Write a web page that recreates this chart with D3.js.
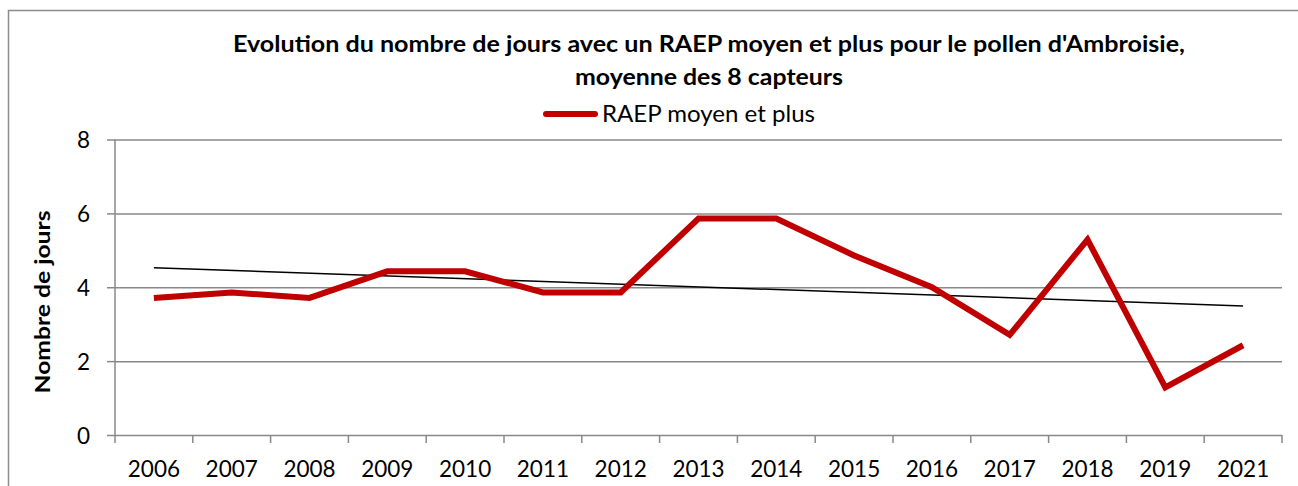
<!DOCTYPE html>
<html>
<head>
<meta charset="utf-8">
<script src="https://cdn.jsdelivr.net/npm/d3@7/dist/d3.min.js"></script>
<style>
  html, body { margin: 0; padding: 0; background: #fff; }
  svg { display: block; }
  text { font-family: Lato, "Open Sans", sans-serif; fill: #000; }
</style>
</head>
<body>
<svg id="chart" width="1298" height="486"></svg>
<script>
// Days with a "moyen et plus" pollen risk (RAEP), mean over the sensors
const years = ["2006", "2007", "2008", "2009", "2010", "2011", "2012", "2013",
               "2014", "2015", "2016", "2017", "2018", "2019", "2021"];
const raepDays = [3.71, 3.86, 3.71, 4.43, 4.43, 3.86, 3.86, 5.86,
                  5.86, 4.86, 4.00, 2.71, 5.29, 1.29, 2.43];
const yTicks = [0, 2, 4, 6, 8];
const titleLines = [
  "Evolution du nombre de jours avec un RAEP moyen et plus pour le pollen d'Ambroisie,",
  "moyenne des 8 capteurs"
];
const seriesName = "RAEP moyen et plus";
const yAxisTitle = "Nombre de jours";

const svg = d3.select("#chart");
const W = 1298, H = 486;
const plot = { left: 115, right: 1282, top: 139.5, bottom: 435 };
const red = "#C00000", grid = "#888888";

// Outer chart frame
svg.append("rect")
  .attr("x", 8.5).attr("y", 10.5)
  .attr("width", 1300).attr("height", 520)
  .attr("fill", "none").attr("stroke", "#8c8c8c").attr("stroke-width", 1.5);

const x = d3.scaleBand().domain(years).range([plot.left, plot.right]);
const y = d3.scaleLinear().domain([0, 8]).range([plot.bottom, plot.top]);

// Horizontal gridlines and y tick marks
const yAxis = d3.axisLeft(y).tickValues(yTicks).tickSize(8).tickPadding(17)
  .tickFormat(d3.format("d"));
const gy = svg.append("g").attr("transform", `translate(${plot.left},0)`).call(yAxis);
gy.select(".domain").remove();
gy.selectAll(".tick line").attr("stroke", grid).attr("stroke-width", 1.5);
gy.selectAll(".tick text")
  .style("font-size", "22.5px").attr("dy", "0.36em");
gy.selectAll(".tick").append("line")
  .attr("x1", 0).attr("x2", plot.right - plot.left)
  .attr("stroke", grid).attr("stroke-width", 1.5);

// Vertical axis line
svg.append("line")
  .attr("x1", plot.left).attr("x2", plot.left)
  .attr("y1", plot.top).attr("y2", plot.bottom)
  .attr("stroke", grid).attr("stroke-width", 1.5);

// Category axis: tick marks at band boundaries, labels centred in bands
const gx = svg.append("g").attr("transform", `translate(0,${plot.bottom})`)
  .call(d3.axisBottom(x).tickSize(0).tickPadding(26));
gx.select(".domain").remove();
gx.selectAll(".tick text").style("font-size", "22.5px").attr("dy", "0.71em");
const bounds = years.map(d => x(d)).concat([x(years[years.length - 1]) + x.bandwidth()]);
gx.selectAll("line.bound").data(bounds).enter().append("line")
  .attr("class", "bound")
  .attr("x1", d => d).attr("x2", d => d)
  .attr("y1", 0).attr("y2", 8)
  .attr("stroke", grid).attr("stroke-width", 1.5);

// Linear trend of the series (least squares over category index)
const n = raepDays.length;
const idx = d3.range(1, n + 1);
const mx = d3.mean(idx), my = d3.mean(raepDays);
const slope = d3.sum(idx, (i, k) => (i - mx) * (raepDays[k] - my)) /
              d3.sum(idx, i => (i - mx) * (i - mx));
const icpt = my - slope * mx;
const cx = d => x(d) + x.bandwidth() / 2;
svg.append("line")
  .attr("x1", cx(years[0])).attr("y1", y(icpt + slope * 1))
  .attr("x2", cx(years[n - 1])).attr("y2", y(icpt + slope * n))
  .attr("stroke", "#000").attr("stroke-width", 1.5);

// Main series line
const line = d3.line().x((d, i) => cx(years[i])).y(d => y(d));
svg.append("path")
  .datum(raepDays)
  .attr("d", line)
  .attr("fill", "none").attr("stroke", red)
  .attr("stroke-width", 6).attr("stroke-linejoin", "miter");

// Title
svg.append("text")
  .attr("x", 709).attr("y", 52)
  .attr("text-anchor", "middle")
  .style("font-size", "23px").style("font-weight", "bold")
  .attr("textLength", 952).attr("lengthAdjust", "spacingAndGlyphs")
  .text(titleLines[0]);
svg.append("text")
  .attr("x", 709).attr("y", 85)
  .attr("text-anchor", "middle")
  .style("font-size", "23px").style("font-weight", "bold")
  .attr("textLength", 268).attr("lengthAdjust", "spacingAndGlyphs")
  .text(titleLines[1]);

// Legend
svg.append("line")
  .attr("x1", 546).attr("x2", 595).attr("y1", 114).attr("y2", 114)
  .attr("stroke", red).attr("stroke-width", 6).attr("stroke-linecap", "round");
svg.append("text")
  .attr("x", 602).attr("y", 122)
  .style("font-size", "22.5px")
  .attr("textLength", 213).attr("lengthAdjust", "spacingAndGlyphs")
  .text(seriesName);

// Y axis title
svg.append("text")
  .attr("transform", "translate(50,302) rotate(-90)")
  .attr("text-anchor", "middle")
  .style("font-size", "20px").style("font-weight", "bold")
  .attr("textLength", 183).attr("lengthAdjust", "spacingAndGlyphs")
  .text(yAxisTitle);
</script>
</body>
</html>
